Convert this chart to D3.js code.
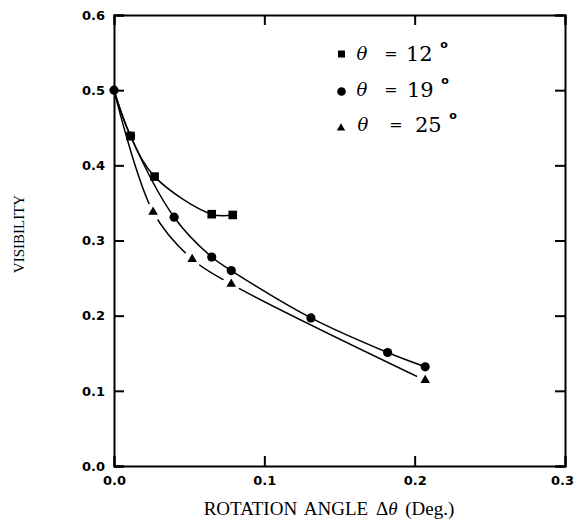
<!DOCTYPE html>
<html>
<head>
<meta charset="utf-8">
<script src="https://cdn.jsdelivr.net/npm/d3@7"></script>
<style>
  body { margin: 0; background: #fff; }
  svg { display: block; }
</style>
</head>
<body>
<svg id="chart" width="575" height="524"></svg>
<script>
// data: rotation angle (deg) vs visibility
const sqX = [0, 0.011, 0.027, 0.065, 0.079];
const sqY = [0.5, 0.439, 0.385, 0.335, 0.334];

const ciX = [0, 0.011, 0.040, 0.065, 0.078, 0.131, 0.182, 0.207];
const ciY = [0.5, 0.439, 0.331, 0.278, 0.260, 0.197, 0.151, 0.132];

const trX = [0, 0.026, 0.052, 0.078, 0.207];
const trY = [0.5, 0.338, 0.275, 0.242, 0.114];

const xTicks = [0, 0.1, 0.2, 0.3];
const yTicks = [0, 0.1, 0.2, 0.3, 0.4, 0.5, 0.6];
const legendLabels = ["12", "19", "25"];

const svg = d3.select("#chart");
const x = d3.scaleLinear().domain([0, 0.3]).range([114, 565]);
const y = d3.scaleLinear().domain([0, 0.6]).range([466, 15]);

const zip = (xs, ys) => xs.map((v, i) => [v, ys[i]]);
const squares = zip(sqX, sqY);
const circles = zip(ciX, ciY);
const triangles = zip(trX, trY);

// axes: ticks pointing inward on all four sides
const tickFont = g => g.selectAll("text")
    .style("font-family", "DejaVu Sans, sans-serif")
    .style("font-weight", "bold")
    .style("font-size", "13px")
    .attr("fill", "#000");

const bottom = svg.append("g")
    .attr("transform", `translate(0,${y(0)})`)
    .call(d3.axisBottom(x).tickValues(xTicks).tickFormat(d3.format(".1f")).tickSize(-10).tickPadding(10))
    .call(tickFont);
// last label sits against the page edge, nudge it in
bottom.selectAll("text").filter(d => d === 0.3).attr("dx", "-3px");

svg.append("g")
    .attr("transform", `translate(${x(0)},0)`)
    .call(d3.axisLeft(y).tickValues(yTicks).tickFormat(d3.format(".1f")).tickSize(-10).tickPadding(9))
    .call(tickFont);

svg.append("g")
    .attr("transform", `translate(0,${y(0.6)})`)
    .call(d3.axisTop(x).tickValues(xTicks).tickFormat("").tickSize(-10));

svg.append("g")
    .attr("transform", `translate(${x(0.3)},0)`)
    .call(d3.axisRight(y).tickValues(yTicks).tickFormat("").tickSize(-10));

svg.selectAll(".domain").attr("stroke", "#000").attr("stroke-width", 2);
svg.selectAll(".tick line").attr("stroke", "#000").attr("stroke-width", 2);

// axis titles
const xt = svg.append("text")
    .attr("x", 329)
    .attr("y", 515)
    .attr("text-anchor", "middle")
    .style("font-family", "Liberation Serif, serif")
    .style("font-size", "19px")
    .style("word-spacing", "3px");
xt.append("tspan").text("ROTATION ANGLE Δ");
xt.append("tspan").style("font-style", "italic").text("θ");
xt.append("tspan").text(" (Deg.)");

svg.append("text")
    .attr("transform", "translate(24,234) rotate(-90)")
    .attr("text-anchor", "middle")
    .style("font-family", "Liberation Serif, serif")
    .style("font-size", "15px")
    .text("VISIBILITY");

// curves
const line = d3.line()
    .x(d => x(d[0]))
    .y(d => y(d[1]))
    .curve(d3.curveCatmullRom.alpha(0.5));

// triangle curve is broken around its markers
const mask = svg.append("defs").append("mask").attr("id", "trGap");
mask.append("rect").attr("width", 575).attr("height", 524).attr("fill", "#fff");
mask.selectAll("circle")
    .data(triangles.filter(d => d[0] > 0))
    .enter().append("circle")
    .attr("cx", d => x(d[0]))
    .attr("cy", d => y(d[1]))
    .attr("r", 9)
    .attr("fill", "#000");

svg.append("path")
    .datum(squares)
    .attr("d", line)
    .attr("fill", "none").attr("stroke", "#000").attr("stroke-width", 1.5);

svg.append("path")
    .datum(circles)
    .attr("d", line)
    .attr("fill", "none").attr("stroke", "#000").attr("stroke-width", 1.5);

svg.append("path")
    .datum(triangles)
    .attr("d", line)
    .attr("mask", "url(#trGap)")
    .attr("fill", "none").attr("stroke", "#000").attr("stroke-width", 1.5);

// markers
svg.selectAll(".ci")
    .data(circles)
    .enter().append("circle")
    .attr("class", "ci")
    .attr("cx", d => x(d[0]))
    .attr("cy", d => y(d[1]))
    .attr("r", 4.6);

svg.selectAll(".sq")
    .data(squares.filter(d => d[0] > 0))
    .enter().append("rect")
    .attr("class", "sq")
    .attr("x", d => x(d[0]) - 4.3)
    .attr("y", d => y(d[1]) - 4.3)
    .attr("width", 8.6)
    .attr("height", 8.6);

const tri = d3.symbol().type(d3.symbolTriangle).size(40);
svg.selectAll(".tr")
    .data(triangles.filter(d => d[0] > 0))
    .enter().append("path")
    .attr("class", "tr")
    .attr("transform", d => `translate(${x(d[0])},${y(d[1])})`)
    .attr("d", tri);

// legend
const legendRows = [
  { shape: "sq", cx: 341.5, cy: 54, thetaX: 362, eqX: 391, numX: 406, base: 61 },
  { shape: "ci", cx: 341.5, cy: 91.5, thetaX: 362, eqX: 391, numX: 407, base: 97 },
  { shape: "tr", cx: 341, cy: 128, thetaX: 363, eqX: 396, numX: 415, base: 132 }
];

const leg = svg.append("g");
legendRows.forEach((r, i) => {
  if (r.shape === "sq") {
    leg.append("rect").attr("x", r.cx - 3.5).attr("y", r.cy - 3.5).attr("width", 7).attr("height", 7);
  } else if (r.shape === "ci") {
    leg.append("circle").attr("cx", r.cx).attr("cy", r.cy).attr("r", 4.3);
  } else {
    leg.append("path").attr("transform", `translate(${r.cx},${r.cy})`)
      .attr("d", d3.symbol().type(d3.symbolTriangle).size(30));
  }
  leg.append("text")
    .attr("x", r.thetaX).attr("y", r.base - 1)
    .attr("text-anchor", "middle")
    .style("font-family", "DejaVu Serif, serif")
    .style("font-style", "italic")
    .style("font-size", "18px")
    .text("θ");
  leg.append("text")
    .attr("x", r.eqX).attr("y", r.base - 2)
    .attr("text-anchor", "middle")
    .style("font-family", "DejaVu Serif, serif")
    .style("font-size", "16px")
    .text("=");
  leg.append("text")
    .attr("x", r.numX).attr("y", r.base)
    .style("font-family", "DejaVu Serif, serif")
    .style("font-size", "21px")
    .text(legendLabels[i]);
  leg.append("text")
    .attr("x", r.numX + 38).attr("y", r.base - 13)
    .attr("text-anchor", "middle")
    .style("font-family", "DejaVu Sans, sans-serif")
    .style("font-weight", "bold")
    .style("font-size", "11px")
    .text("o");
});
</script>
</body>
</html>
